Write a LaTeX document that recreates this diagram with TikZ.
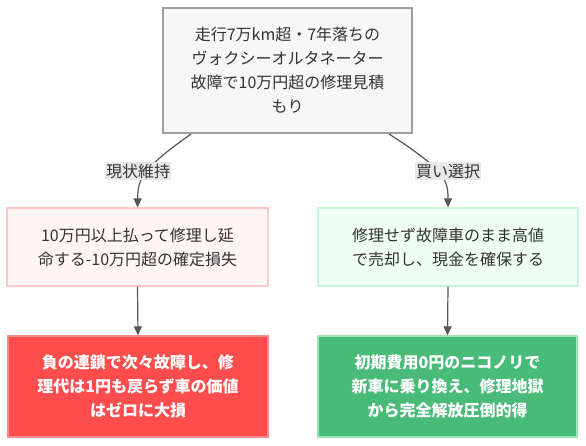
\documentclass[tikz,border=0pt]{standalone}
\usepackage{fontspec}
\setmainfont{Noto Sans CJK JP}
\usetikzlibrary{arrows.meta}
\definecolor{topfill}{HTML}{F7F7F7}
\definecolor{topdraw}{HTML}{9E9E9E}
\definecolor{pinkfill}{HTML}{FFF5F5}
\definecolor{pinkdraw}{HTML}{FFC9C9}
\definecolor{mintfill}{HTML}{F0FFF4}
\definecolor{mintdraw}{HTML}{C6F6D5}
\definecolor{redfill}{HTML}{FF4D4D}
\definecolor{reddraw}{HTML}{FF8A8A}
\definecolor{grnfill}{HTML}{48BB78}
\definecolor{grndraw}{HTML}{9AE6B4}
\definecolor{txt}{HTML}{333333}
\definecolor{edge}{HTML}{555555}
\definecolor{lblbg}{HTML}{E8E8E8}
\tikzset{
  box/.style={rectangle, line width=1.3pt, align=center, inner sep=0pt,
    font=\fontsize{16}{24}\selectfont, text=txt},
  conn/.style={draw=edge, line width=1.2pt, -{Triangle[width=8pt,length=9pt]}},
  lbl/.style={fill=lblbg, inner xsep=1pt, inner ysep=2pt, text=txt,
    font=\fontsize{16}{20}\selectfont}
}
\begin{document}
\begin{tikzpicture}[x=1pt,y=-1pt]
\useasboundingbox (0,0) rectangle (586,446);
\node[box, fill=topfill, draw=topdraw, minimum width=249pt, minimum height=125pt] (top) at (287.5,70.5)
  {走行7万km超・7年落ちの\\ヴォクシーオルタネーター\\故障で10万円超の修理見積\\もり};
\node[box, fill=pinkfill, draw=pinkdraw, minimum width=261pt, minimum height=78pt] (keep) at (137.5,247)
  {10万円以上払って修理し延\\命する-10万円超の確定損失};
\node[box, fill=mintfill, draw=mintdraw, minimum width=260pt, minimum height=78pt] (sell) at (448,247)
  {修理せず故障車のまま高値\\で売却し、現金を確保する};
\node[box, fill=redfill, draw=reddraw, minimum width=260pt, minimum height=101pt, text=white, font=\fontsize{16}{24}\selectfont\bfseries] (bad) at (138,386.5)
  {負の連鎖で次々故障し、修\\理代は1円も戻らず車の価値\\はゼロに大損};
\node[box, fill=grnfill, draw=grndraw, minimum width=259pt, minimum height=101pt, text=white, font=\fontsize{16}{24}\selectfont\bfseries] (good) at (447.5,386.5)
  {初期費用0円のニコノリで\\新車に乗り換え、修理地獄\\から完全解放圧倒的得};
\coordinate (tl) at (191,134);
\coordinate (tr) at (389,134);
\draw[conn] (tl) .. controls (140,170) and (138,180) .. (keep.north);
\draw[conn] (tr) .. controls (445,170) and (448,180) .. (sell.north);
\node[lbl] (l1) at (138,171) {現状維持};
\node[lbl] (l2) at (448,171) {買い選択};
\draw[conn] (keep.south) -- (bad.north);
\draw[conn] (sell.south) -- (good.north);
\end{tikzpicture}
\end{document}
